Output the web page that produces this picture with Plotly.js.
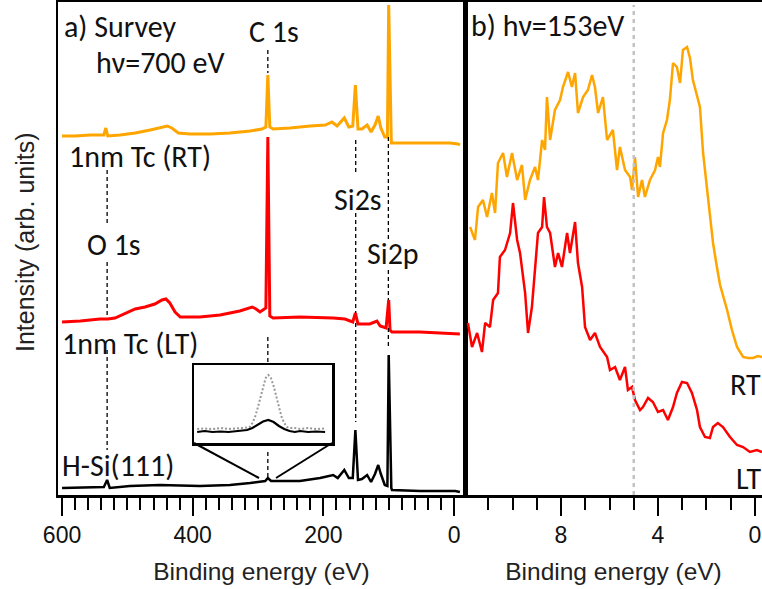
<!DOCTYPE html>
<html>
<head>
<meta charset="utf-8">
<script src="https://cdn.plot.ly/plotly-3.0.1.min.js"></script>
<style>html,body{margin:0;padding:0;background:#fff;}</style>
</head>
<body>
<div id="chart" style="width:762px;height:589px;"></div>
<script>
// ---------- Panel a: survey spectra (binding energy eV, intensity arb. units) ----------
const surveyRT_E = [600,580,557,536,533,530,511,488,465,450,439,432,422,404,373,343,312,294,288,285,282,277,251,220,197,187,179,168,161,155,151,147,141,133,127,121,116,112,106,102,100,96,95,52,6,-6,-9];
const surveyRT_I = [359,359,360,360,367,359,360,362,365,367,369,367,362,361,361,362,364,366,368,420,368,366,367,369,370,373,369,377,368,369,410,366,366,370,363,370,379,367,358,358,490,352,352,352,352,351,350];

const surveyLT_E = [600,572,542,530,519,504,488,473,458,447,441,435,427,419,389,358,328,309,303,297,291,288,285,282,277,236,185,167,155,151,147,129,118,113,104,100,98,95,52,-9];
const surveyLT_I = [173,174,176,176,177,181,186,188,191,195,196,192,183,178,178,180,184,188,186,183,186,187,358,179,177,178,177,176,173,182,171,171,174,169,167,195,165,163,163,161];

const surveyHSi_E = [600,557,536,531,527,496,450,389,343,312,289,285,280,236,205,185,178,168,161,155,151,147,141,133,127,121,116,112,106,102,100,96,95,52,-2,-9];
const surveyHSi_I = [7,8,8,15,7,9,10,9,10,12,14,17,14,14,17,20,17,25,17,17,65,15,16,20,13,21,30,21,10,9,140,7,5,4,4,3];

// core-level markers
const peakNames    = ["O 1s","C 1s","Si2s","Si2p"];
const peakEnergies = [531, 285, 150.5, 100.5];

// ---------- Inset: C 1s region ----------
const insetSolid_E  = [298.4,297,295.5,294,292.5,291,290,289,288,287,286,285,284,283,282,281,280,279,277.5,276,274.3];
const insetSolid_I  = [11,12,11,11.5,11,12,12,13,15,18,21.5,23,21,17,14,12,11,12,11,11.5,11];
const insetDotted_E = [298.4,297,295.5,294,292.5,291,290,289,288.5,288,287.5,287,286.5,286,285.5,285,284.5,284,283.5,283,282.5,282,281.5,281,280,279,277.5,276,274.3];
const insetDotted_I = [14,14.5,14,15,14,15,15,15.5,16,20,26,35,46,57,65,68,65,57,46,35,26,20,16,15,15,14,15,14,14.5];

// ---------- Panel b: valence band, hv = 153 eV ----------
const vbRT_E = [11.75,11.55,11.42,11.22,11.05,10.85,10.72,10.60,10.39,10.23,10.02,9.81,9.61,9.48,9.28,9.07,8.95,8.78,8.66,8.58,8.45,8.25,8.04,7.92,7.71,7.55,7.42,7.30,7.09,6.89,6.72,6.60,6.47,6.27,6.10,5.86,5.69,5.57,5.36,5.15,5.07,4.95,4.82,4.66,4.54,4.33,4.12,4.00,3.92,3.79,3.63,3.51,3.38,3.22,3.09,2.97,2.80,2.68,2.56,2.39,2.27,2.14,1.98,1.86,1.73,1.57,1.44,1.15,0.95,0.74,0.49,0.29,0.08,-0.12,-0.29];
const vbRT_I = [268,255,288,295,278,302,282,332,342,318,342,315,330,295,315,328,315,355,345,398,355,385,395,408,423,408,422,382,398,405,420,408,382,398,355,365,325,348,325,318,305,338,298,315,298,315,325,338,328,362,375,395,432,428,412,445,448,437,415,398,388,342,308,278,252,228,210,185,165,148,138,137,137,139,138];

const vbLT_E = [11.84,11.67,11.46,11.26,11.13,10.93,10.80,10.60,10.52,10.31,10.10,9.98,9.81,9.69,9.48,9.36,9.20,9.07,8.95,8.78,8.70,8.58,8.45,8.25,8.12,7.96,7.75,7.63,7.42,7.30,7.13,7.01,6.80,6.60,6.39,6.10,5.98,5.77,5.57,5.36,5.24,5.07,4.95,4.74,4.62,4.41,4.21,4.00,3.79,3.59,3.38,3.22,3.01,2.80,2.60,2.39,2.27,2.06,1.86,1.73,1.53,1.32,1.03,0.74,0.49,0.21,-0.08,-0.29];
const vbLT_I = [172,148,162,143,172,168,195,202,238,245,262,292,255,242,202,162,188,228,262,268,298,268,262,228,242,228,262,242,273,232,208,168,155,162,148,138,125,128,115,128,105,108,95,85,88,97,93,83,85,75,88,102,113,112,102,85,68,58,57,68,72,68,58,50,48,43,45,43];

const vbMarkerE = 5;

// ---------- layout helpers ----------
const W = 762, H = 589;
const M = {l:58, r:0, t:2, b:94};
const PW = W - M.l - M.r, PH = H - M.t - M.b;
const px = v => (v - M.l) / PW;          // page x -> paper
const py = v => (H - M.b - v) / PH;      // page y -> paper
const split = px(465);

const ORANGE = '#FFA500', RED = '#FF0000', BLACK = '#000000';
const labelFont = {family:'Carlito, Lato, "Open Sans", sans-serif', size:30, color:'#111'};
const axisFont = {family:'"Liberation Sans", Arial, sans-serif', size:23, color:'#111'};
const axTitleFont = {family:'"Liberation Sans", Arial, sans-serif', size:24.5, color:'#222'};

const traces = [
  {x:surveyRT_E, y:surveyRT_I, xaxis:'x', yaxis:'y', mode:'lines', line:{color:ORANGE, width:3}},
  {x:surveyLT_E, y:surveyLT_I, xaxis:'x', yaxis:'y', mode:'lines', line:{color:RED, width:3}},
  {x:surveyHSi_E, y:surveyHSi_I, xaxis:'x', yaxis:'y', mode:'lines', line:{color:BLACK, width:2.5}},
  {x:insetDotted_E, y:insetDotted_I, xaxis:'x3', yaxis:'y3', mode:'lines', line:{color:'#999', width:2, dash:'2px,2px'}},
  {x:insetSolid_E, y:insetSolid_I, xaxis:'x3', yaxis:'y3', mode:'lines', line:{color:BLACK, width:2.2}},
  {x:vbRT_E, y:vbRT_I, xaxis:'x2', yaxis:'y2', mode:'lines', line:{color:ORANGE, width:2.5}},
  {x:vbLT_E, y:vbLT_I, xaxis:'x2', yaxis:'y2', mode:'lines', line:{color:RED, width:2.5}}
];

// dashed marker segments (page-pixel y spans for each marker)
const segSpans = [
  [[170,224],[262,318],[350,450]],
  [[50,73],[337,365],[452,478]],
  [[140,175],[213,313],[323,422]],
  [[137,240],[270,300],[328,347]]
];
const shapes = [];
peakEnergies.forEach((e,i) => {
  segSpans[i].forEach(s => {
    shapes.push({type:'line', xref:'x', yref:'paper', x0:e, x1:e, y0:py(s[0]), y1:py(s[1]),
      line:{color:'#000', width:1.3, dash:'4px,3px'}});
  });
});
// valence marker line
shapes.push({type:'line', xref:'x2', yref:'paper', x0:vbMarkerE, x1:vbMarkerE, y0:0, y1:py(5),
  line:{color:'#c4c4c4', width:2.5, dash:'4px,4px'}});
// inset connectors
const ib = {x0:px(194), x1:px(332), y0:py(443), y1:py(365)};
shapes.push({type:'line', xref:'paper', yref:'paper', x0:ib.x0, y0:ib.y0, x1:px(259), y1:py(478), line:{color:'#000', width:2}});
shapes.push({type:'line', xref:'paper', yref:'paper', x0:ib.x1, y0:ib.y0, x1:px(276), y1:py(478), line:{color:'#000', width:2}});

function lab(text, x, y, extra) {
  return Object.assign({text:text, xref:'paper', yref:'paper', x:px(x), y:py(y), xanchor:'left', yanchor:'middle',
    showarrow:false, font:labelFont, borderpad:0}, extra || {});
}
const annotations = [
  lab('a) Survey', 63, 26),
  lab('C 1s', 248, 31),
  lab('h\u03bd=700 eV', 95, 62),
  lab('1nm Tc (RT)', 68, 156),
  lab('O 1s', 86, 244),
  lab('Si2s', 333, 199),
  lab('Si2p', 366, 253),
  lab('1nm Tc (LT)', 61, 343),
  lab('H-Si(111)', 61, 465),
  lab('b) h\u03bd=153eV', 470, 25),
  lab('RT', 729, 384),
  lab('LT', 735, 478),
  {text:'Intensity (arb. units)', xref:'paper', yref:'paper', x:px(25), y:py(242), xanchor:'center', yanchor:'middle',
   textangle:-90, showarrow:false, font:{family:'"Liberation Sans", Arial, sans-serif', size:25, color:'#222'}}
];

const baseX = {
  showline:true, linewidth:2.5, linecolor:'#000', mirror:true,
  ticks:'outside', ticklen:18, tickwidth:2, tickcolor:'#000',
  showgrid:false, zeroline:false, tickfont:axisFont, fixedrange:true
};
const baseY = {showline:true, linewidth:2.5, linecolor:'#000', showticklabels:false, ticks:'',
  showgrid:false, zeroline:false, range:[0,493], fixedrange:true};

const layout = {
  width:W, height:H, margin:M, paper_bgcolor:'#fff', plot_bgcolor:'rgba(0,0,0,0)', showlegend:false,
  xaxis: Object.assign({}, baseX, {domain:[0, split], range:[606.2,-16.8], anchor:'y', tick0:0, dtick:200,
    minor:{dtick:20, ticks:'outside', ticklen:12, tickwidth:2, tickcolor:'#000', showgrid:false},
    title:{text:'Binding energy (eV)', font:axTitleFont, standoff:16}}),
  yaxis: Object.assign({}, baseY, {domain:[0,1], anchor:'x', mirror:true}),
  xaxis2: Object.assign({}, baseX, {domain:[split, 1], range:[11.96,-0.29], anchor:'y2', tick0:0, dtick:4,
    minor:{dtick:1, ticks:'outside', ticklen:12, tickwidth:2, tickcolor:'#000', showgrid:false},
    title:{text:'Binding energy (eV)', font:axTitleFont, standoff:16}}),
  yaxis2: Object.assign({}, baseY, {domain:[0,1], anchor:'x2', mirror:false}),
  xaxis3: {domain:[ib.x0, ib.x1], range:[299,273], anchor:'y3', showline:true, mirror:true, linewidth:2.5, linecolor:'#000',
    ticks:'', showticklabels:false, showgrid:false, zeroline:false, fixedrange:true},
  yaxis3: {domain:[ib.y0, ib.y1], range:[0,78], anchor:'x3', showline:true, mirror:true, linewidth:2.5, linecolor:'#000',
    ticks:'', showticklabels:false, showgrid:false, zeroline:false, fixedrange:true},
  shapes:shapes,
  annotations:annotations
};

Plotly.newPlot('chart', traces, layout, {displayModeBar:false, staticPlot:true});
</script>
</body>
</html>
